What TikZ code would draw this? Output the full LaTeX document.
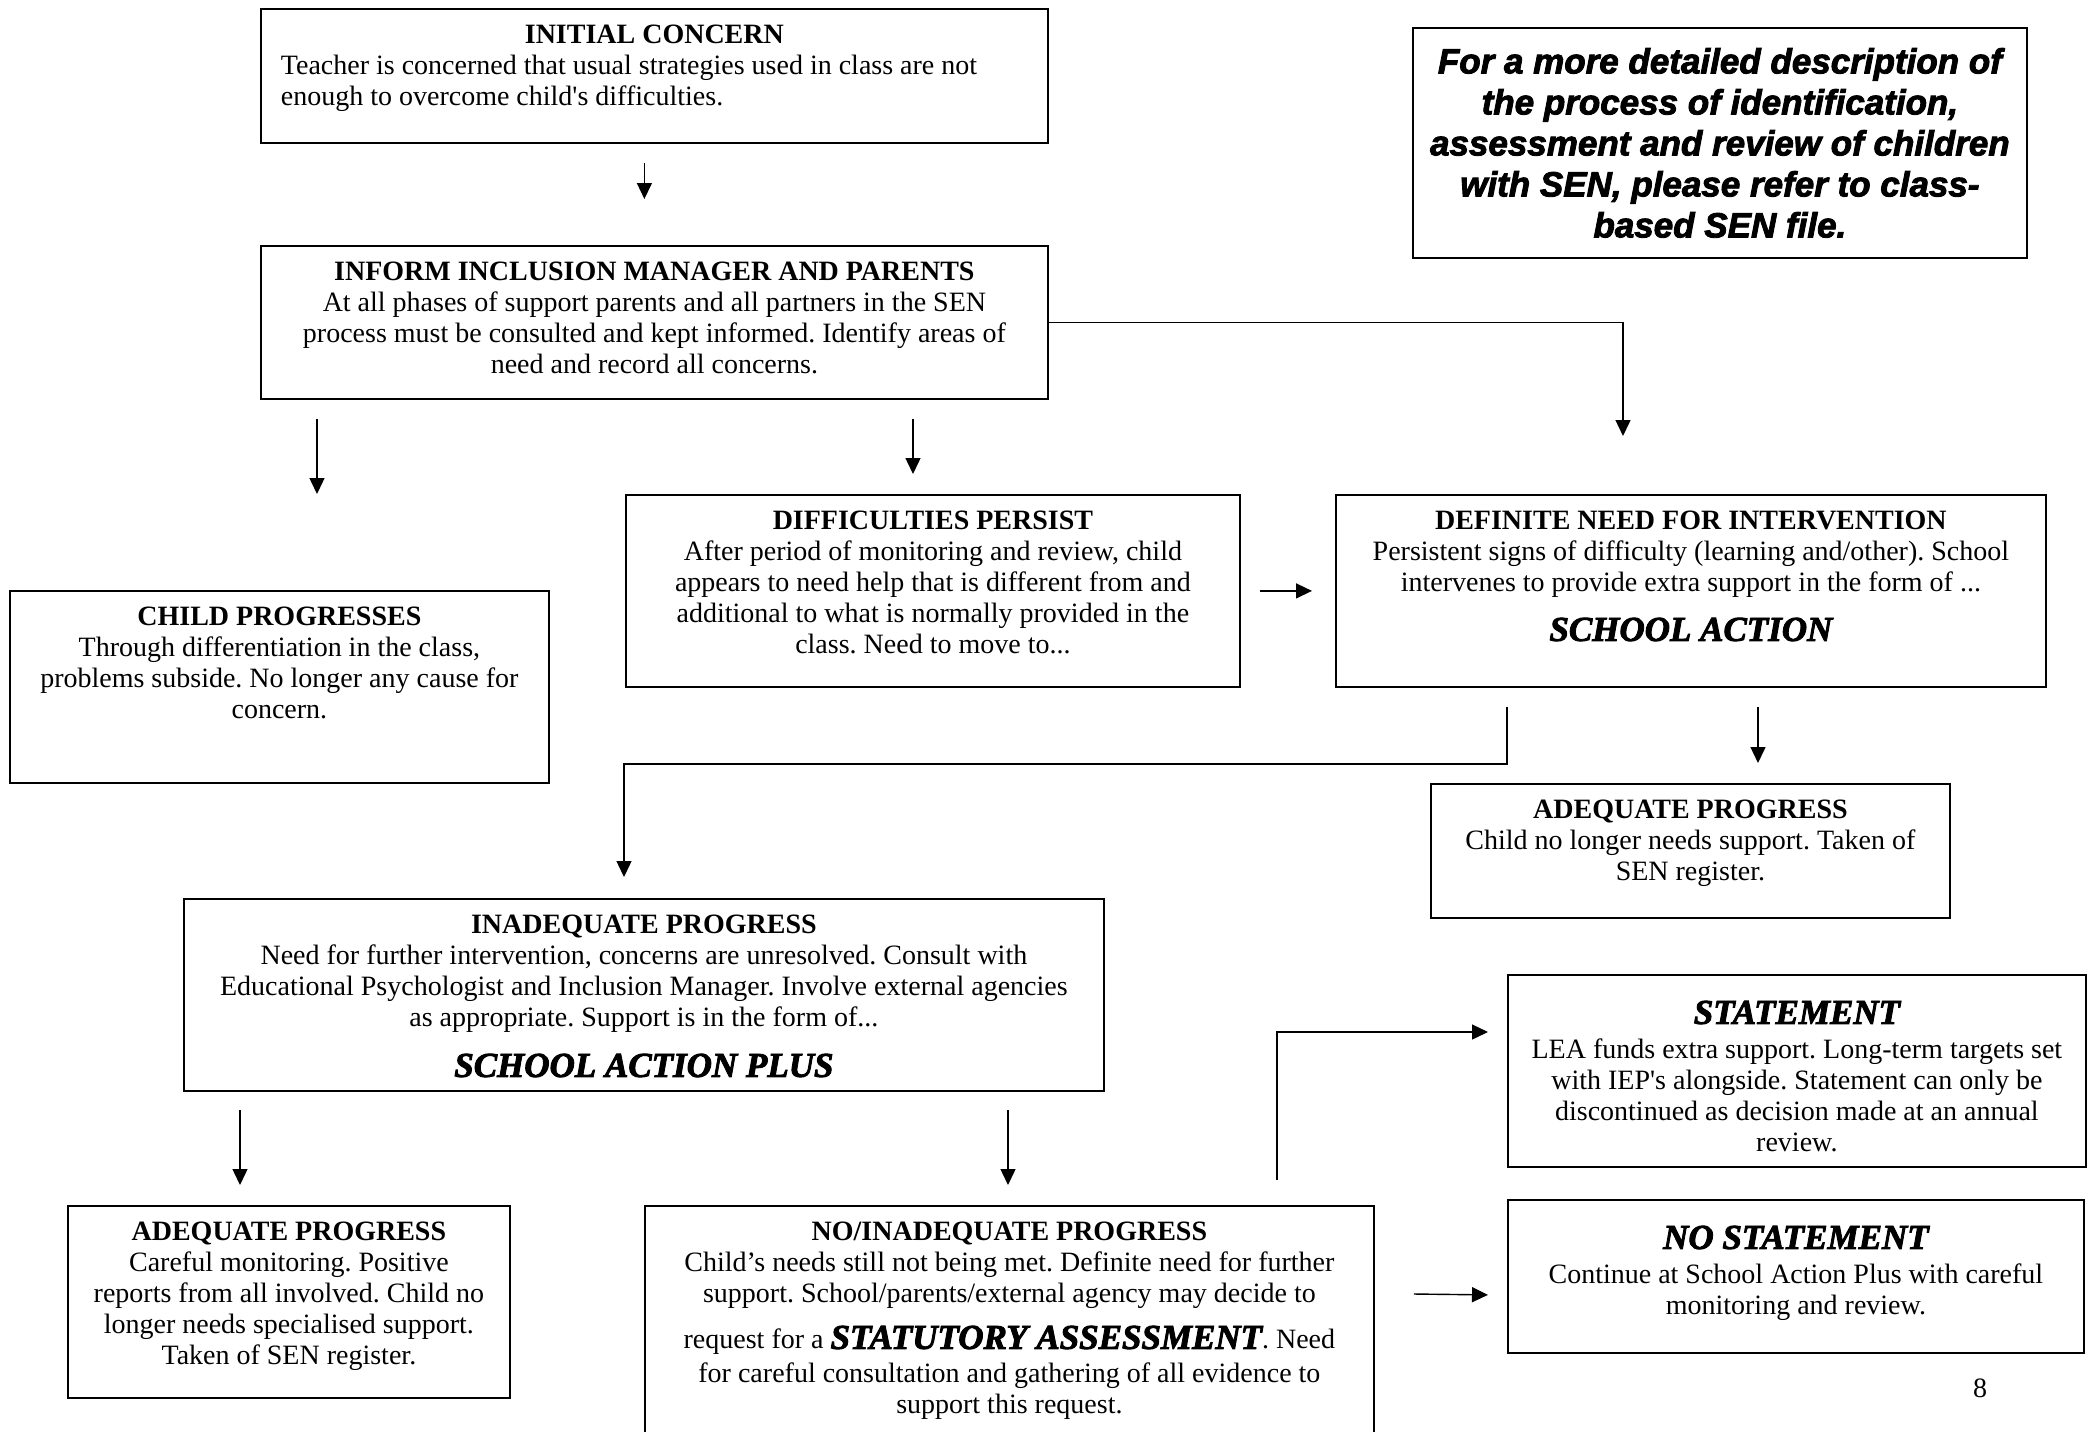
\documentclass[tikz,border=0pt]{standalone}
\usepackage{fontspec}
\setmainfont{Liberation Serif}
\newfontfamily\notefont{Liberation Sans}[UprightFont=* Bold Italic, FakeBold=2.5]
\newfontfamily\actfont{Liberation Serif}[UprightFont=* Bold Italic, FakeBold=2.5]
\usetikzlibrary{arrows.meta}
\frenchspacing
\newcommand{\bodysize}{\fontsize{14pt}{15.5pt}\selectfont}
\newcommand{\act}[1]{{\actfont\fontsize{17.5pt}{15.5pt}\selectfont #1}}
\newcommand{\boxtxt}[4][17.5pt]{\parbox[t][#3][t]{#2}{\centering\rule{0pt}{#1}#4}}
\tikzstyle{box}=[draw, line width=0.9pt, inner sep=0pt, anchor=north west, font=\bodysize]
\tikzstyle{note}=[draw, line width=0.9pt, inner sep=0pt, anchor=north west, align=center]
\tikzstyle{arr}=[line width=0.7pt, -{Triangle[length=8pt,width=7.5pt]}]

\begin{document}
\begin{tikzpicture}[x=0.5pt, y=-0.5pt]
\useasboundingbox (0,0) rectangle (2089,1431);
% boxes, positions in pixels of the page
\node[box] (ic) at (260,8) {\boxtxt{393.5pt}{67pt}{\textbf{INITIAL CONCERN}\par
  \raggedright\leftskip=10pt Teacher is concerned that usual strategies used in class are not\\
  enough to overcome child\textquotesingle s difficulties.}};
\node[note, minimum width=307pt, minimum height=115pt, font=\notefont\fontsize{17.5pt}{20.5pt}\selectfont] (note) at (1412,27)
  {For a more detailed description of\\ the process of identification,\\ assessment and review of children\\ with SEN, please refer to class-\\ based SEN file.};
\node[box] (inform) at (260,245) {\boxtxt{393.5pt}{76.5pt}{\textbf{INFORM INCLUSION MANAGER AND PARENTS}\\
  At all phases of support parents and all partners in the SEN\\
  process must be consulted and kept informed. Identify areas of\\
  need and record all concerns.}};
\node[box] (child) at (9,590) {\boxtxt{269.5pt}{96pt}{\textbf{CHILD PROGRESSES}\\
  Through differentiation in the class,\\
  problems subside. No longer any cause for\\
  concern.}};
\node[box] (diff) at (625,494) {\boxtxt{307pt}{96pt}{\textbf{DIFFICULTIES PERSIST}\\
  After period of monitoring and review, child\\
  appears to need help that is different from and\\
  additional to what is normally provided in the\\
  class. Need to move to...}};
\node[box] (defin) at (1335,494) {\boxtxt{355pt}{96pt}{\textbf{DEFINITE NEED FOR INTERVENTION}\\
  Persistent signs of difficulty (learning and/other). School\\
  intervenes to provide extra support in the form of ...\\[9pt]
  \act{SCHOOL ACTION}}};
\node[box] (adeqr) at (1430,783) {\boxtxt{259.5pt}{67pt}{\textbf{ADEQUATE PROGRESS}\\
  Child no longer needs support. Taken of\\
  SEN register.}};
\node[box] (inadeq) at (183,898) {\boxtxt{460pt}{96pt}{\textbf{INADEQUATE PROGRESS}\\
  Need for further intervention, concerns are unresolved. Consult with\\
  Educational Psychologist and Inclusion Manager. Involve external agencies\\
  as appropriate. Support is in the form of...\\[9.5pt]
  \act{SCHOOL ACTION PLUS}}};
\node[box] (adeql) at (67,1205) {\boxtxt{221pt}{96pt}{\textbf{ADEQUATE PROGRESS}\\
  Careful monitoring. Positive\\
  reports from all involved. Child no\\
  longer needs specialised support.\\
  Taken of SEN register.}};
\node[box] (noinad) at (644,1205) {\boxtxt{364.5pt}{130pt}{\textbf{NO/INADEQUATE PROGRESS}\\
  Child’s needs still not being met. Definite need for further\\
  support. School/parents/external agency may decide to\\[7.5pt]
  request for a \act{STATUTORY ASSESSMENT}. Need\\[1.5pt]
  for careful consultation and gathering of all evidence to\\
  support this request.}};
\node[box] (stmt) at (1507,974) {\boxtxt[24.5pt]{289pt}{96pt}{\act{STATEMENT}\\[2pt]
  LEA funds extra support. Long-term targets set\\
  with IEP\textquotesingle s alongside. Statement can only be\\
  discontinued as decision made at an annual\\
  review.}};
\node[box] (nostmt) at (1507,1199) {\boxtxt[24.5pt]{288pt}{76.5pt}{\act{NO STATEMENT}\\[2pt]
  Continue at School Action Plus with careful\\
  monitoring and review.}};
\node[font=\bodysize] (pg) at (1980,1388) {8};
% arrows
\draw[arr] ([shift={(-10,19)}]ic.south) -- ([shift={(-10,-46)}]inform.north);
\draw[arr] ([shift={(57,19)}]inform.south west) -- ([shift={(308,-96)}]child.north west);
\draw[arr] ([shift={(653,19)}]inform.south west) -- ([shift={(288,-20)}]diff.north west);
\draw[arr] (inform.east) -| ([shift={(288,-58)}]defin.north west);
\draw[arr, shorten <=9.5pt, shorten >=11.5pt] (diff.east) -- (defin.west);
\draw[arr] ([shift={(423,19)}]defin.south west) -- ([shift={(328,-20)}]adeqr.north west);
\draw[arr] ([shift={(172,19)}]defin.south west) -- ++(0,57) -| ([shift={(441,-21)}]inadeq.north west);
\draw[arr] ([shift={(57,18)}]inadeq.south west) -- ([shift={(173,-20)}]adeql.north west);
\draw[arr] ([shift={(825,18)}]inadeq.south west) -- ([shift={(364,-20)}]noinad.north west);
\draw[arr] ([shift={(633,-25)}]noinad.north west) |- ([shift={(-19,58)}]stmt.north west);
\draw[arr] ([shift={(39,89)}]noinad.north east) -- ([shift={(-19,18.5)}]nostmt.west);
\end{tikzpicture}
\end{document}
